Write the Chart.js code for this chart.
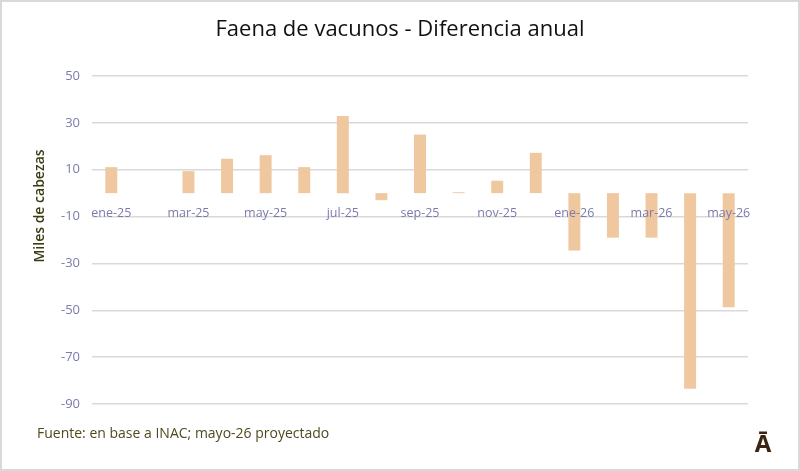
<!DOCTYPE html>
<html>
<head>
<meta charset="utf-8">
<script src="https://cdn.jsdelivr.net/npm/chart.js@4.4.1/dist/chart.umd.min.js"></script>
<style>
  html, body { margin: 0; padding: 0; background: #fff; }
  #wrap { position: relative; width: 800px; height: 471px; }
</style>
</head>
<body>
<div id="wrap"><canvas id="chart"></canvas></div>
<script>
// Datos: diferencia anual de faena (miles de cabezas)
const months = ['ene-25', 'feb-25', 'mar-25', 'abr-25', 'may-25', 'jun-25', 'jul-25', 'ago-25',
  'sep-25', 'oct-25', 'nov-25', 'dic-25', 'ene-26', 'feb-26', 'mar-26', 'abr-26', 'may-26'];
const difference = [11.1, 0, 9.4, 14.7, 16.2, 11.1, 32.9, -3.0, 25.0, 0.4, 5.3, 17.2,
  -24.5, -19.0, -19.0, -83.5, -48.7];
const yTicks = [-90, -70, -50, -30, -10, 10, 30, 50];

const titleText = 'Faena de vacunos - Diferencia anual';
const yTitleText = 'Miles de cabezas';
const sourceText = 'Fuente: en base a INAC; mayo-26 proyectado';
const logoText = 'Ā';

const fontFamily = '"Open Sans", "Noto Sans", sans-serif';
const tickColor = '#7b7bab';
const gridColor = '#d9d9d9';

// Textos fuera del área: título, eje Y, fuente, logo y marco
const extrasPlugin = {
  id: 'extras',
  afterDraw(chart) {
    const ctx = chart.ctx;
    ctx.save();
    ctx.fillStyle = '#111';
    ctx.font = '22px ' + fontFamily;
    ctx.textAlign = 'center';
    ctx.textBaseline = 'middle';
    ctx.fillText(titleText, 400, 30);

    // título del eje Y
    ctx.translate(40, 206);
    ctx.rotate(-Math.PI / 2);
    ctx.fillStyle = '#3b3b14';
    ctx.font = '600 14px ' + fontFamily;
    ctx.fillText(yTitleText, 0, 0);
    ctx.restore();

    ctx.save();
    ctx.fillStyle = '#4f4a1e';
    ctx.font = '14px ' + fontFamily;
    ctx.textAlign = 'left';
    ctx.textBaseline = 'middle';
    ctx.fillText(sourceText, 37, 434);

    ctx.fillStyle = '#3d2412';
    ctx.font = 'bold 24px ' + fontFamily;
    ctx.textAlign = 'center';
    ctx.textBaseline = 'alphabetic';
    ctx.fillText(logoText, 763, 452);

    ctx.strokeStyle = '#d9d9d9';
    ctx.lineWidth = 2;
    ctx.strokeRect(1, 1, chart.width - 2, chart.height - 2);
    ctx.restore();
  }
};

new Chart(document.getElementById('chart'), {
  type: 'bar',
  data: {
    labels: months,
    datasets: [{
      label: 'Diferencia anual',
      data: difference,
      backgroundColor: '#f0c8a0',
      borderWidth: 0,
      categoryPercentage: 1,
      barPercentage: 0.31
    }]
  },
  options: {
    responsive: true,
    maintainAspectRatio: false,
    animation: false,
    layout: {
      padding: { left: 0, right: 52, top: 76, bottom: 67 }
    },
    plugins: {
      legend: { display: false },
      tooltip: { enabled: false },
      title: { display: false }
    },
    scales: {
      x: {
        position: { y: 0 },
        grid: { display: false, drawTicks: false },
        border: { display: false },
        afterFit(scale) { scale.height = 0; },
        ticks: {
          z: 1, // etiquetas por encima de las barras
          autoSkip: false,
          maxRotation: 0,
          padding: 13,
          color: tickColor,
          font: { family: fontFamily, size: 12.5 },
          callback(value, index) {
            return index % 2 === 0 ? months[index] : '';
          }
        }
      },
      y: {
        min: -90,
        max: 50,
        afterFit(scale) { scale.width = 92; },
        afterBuildTicks(scale) {
          scale.ticks = yTicks.map(v => ({ value: v }));
        },
        grid: {
          color: gridColor,
          lineWidth: 1.5,
          drawTicks: false
        },
        border: { display: false },
        ticks: {
          padding: 12,
          color: tickColor,
          font: { family: fontFamily, size: 13 }
        }
      }
    }
  },
  plugins: [extrasPlugin]
});
</script>
</body>
</html>
